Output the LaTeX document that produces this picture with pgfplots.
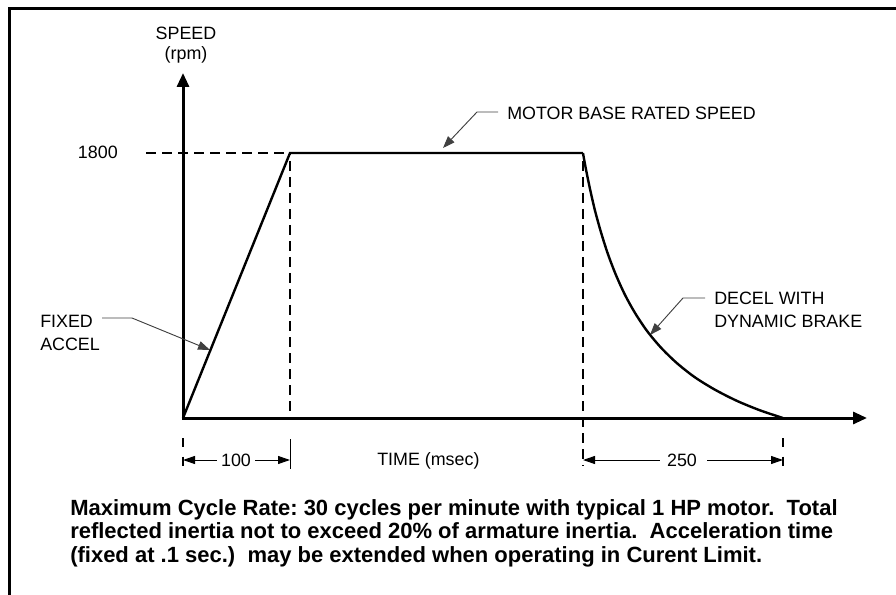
\documentclass[border=0pt]{standalone}
\usepackage{pgfplots}
\pgfplotsset{compat=1.18}
\usepackage{fontspec}
\setmainfont{Liberation Sans}
\usetikzlibrary{arrows.meta}
\begin{document}
\frenchspacing
\begin{tikzpicture}
\begin{scope}[x=0.75pt,y=-0.75pt]
\path[use as bounding box] (0,0) rectangle (896,595);
% frame
\draw[line width=2.25pt] (9,600) -- (9,9) -- (900,9);
% dashed reference lines
\draw[line width=2.2pt, dash pattern=on 7.5pt off 4.5pt] (146,153) -- (290,153);
\draw[line width=2.2pt, dash pattern=on 7.5pt off 4.5pt, dash phase=6pt] (290,153) -- (290,418);
\draw[line width=0.75pt] (290,439) -- (290,469);
\draw[line width=2.2pt, dash pattern=on 7.5pt off 4.5pt, dash phase=6pt] (583,153) -- (583,466);
\draw[line width=2.2pt, dash pattern=on 7pt off 7pt] (183,438) -- (183,469);
\draw[line width=2.2pt, dash pattern=on 7pt off 7pt] (783,438) -- (783,469);
% dimension arrows
\draw[line width=0.75pt, {Triangle[length=9pt,width=6pt]}-] (183,460) -- (217,460);
\draw[line width=0.75pt, -{Triangle[length=9pt,width=6pt]}] (255,460) -- (290,460);
\draw[line width=0.75pt, {Triangle[length=9pt,width=6pt]}-] (583,460) -- (660,460);
\draw[line width=0.75pt, -{Triangle[length=9pt,width=6pt]}] (707,460) -- (783,460);
% axes
\draw[line width=2.25pt, -{Triangle[length=10.5pt,width=9pt]}] (183,419.1) -- (183,73);
\draw[line width=2.25pt, -{Triangle[length=10.5pt,width=9pt]}] (181.9,418) -- (867,418);
% leaders
\draw[line width=0.7pt, black!75, -{Triangle[length=9pt,width=6.5pt]}] (498,112) -- (477,112) -- (443,148);
\draw[line width=0.7pt, black!75, -{Triangle[length=9pt,width=6.5pt]}] (102,318) -- (132,318) -- (210,350);
\draw[line width=0.7pt, black!75, -{Triangle[length=9pt,width=6.5pt]}] (705,298) -- (683,298) -- (650,335);
% labels
\begin{scope}[every node/.style={inner sep=0pt, font=\fontsize{13.4}{16}\selectfont}]
\node[anchor=base] at (186,40) {SPEED};
\node[anchor=base] at (186,60) {(rpm)};
\node[anchor=base east] at (118,159) {1800};
\node[anchor=base west] at (507,120) {MOTOR BASE RATED SPEED};
\node[anchor=base west] at (40,327) {FIXED};
\node[anchor=base west] at (40,350) {ACCEL};
\node[anchor=base west] at (714,305) {DECEL WITH};
\node[anchor=base west] at (714,328) {DYNAMIC BRAKE};
\node[anchor=base west] at (377,465) {TIME (msec)};
\node[anchor=base] at (236,466) {100};
\node[anchor=base] at (682,466) {250};
\end{scope}
\begin{scope}[every node/.style={inner sep=0pt, anchor=base west, font=\fontsize{16.5}{18}\bfseries\selectfont}]
\node at (70,515) {Maximum Cycle Rate: 30 cycles per minute with typical 1 HP motor.~~Total};
\node at (70,538.5) {reflected inertia not to exceed 20\% of armature inertia.~~Acceleration time};
\node at (70,562) {(fixed at .1 sec.)~~may be extended when operating in Curent Limit.};
\end{scope}
\end{scope}
\begin{axis}[at={(137.25pt,-313.5pt)}, anchor=south west, scale only axis,
  x=0.8025pt, y=0.110417pt, xmin=0, xmax=640, ymin=0, ymax=2350,
  axis lines=none, clip=false]
\addplot[line width=1.8pt, black] coordinates {(0,0) (100,1800) (373.8,1800)};
\addplot[line width=1.8pt, black, smooth] coordinates {
(373.8,1800) (376.6,1689) (380.4,1555) (385.0,1410) (390.7,1260) (397.2,1112)
(404.7,970) (413.1,836) (422.4,714) (433.6,592) (446.7,478) (461.7,372)
(478.5,276) (497.2,192) (517.8,116) (539.3,52) (560.7,0)};
\end{axis}
\end{tikzpicture}
\end{document}
